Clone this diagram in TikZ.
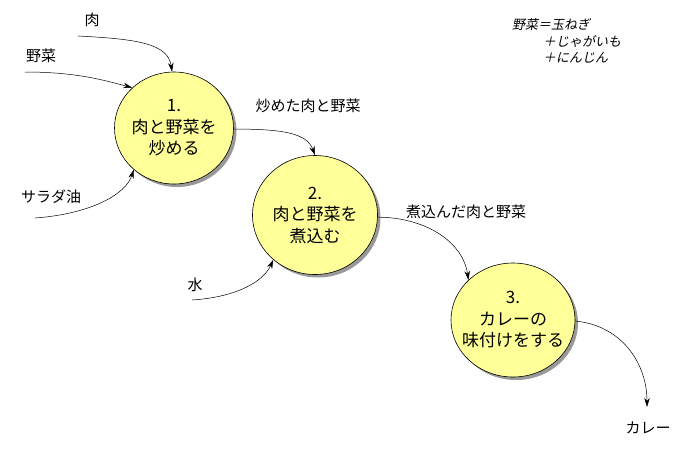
\documentclass[tikz,border=0pt]{standalone}
\usepackage{fontspec}
\setmainfont{Noto Sans CJK JP}
\newfontfamily\noteslant[FakeSlant=0.2]{Noto Sans CJK JP}
\usetikzlibrary{shapes.geometric,shadows,arrows.meta}
\definecolor{procfill}{HTML}{FFFF99}
\begin{document}
\begin{tikzpicture}[
    x=1pt, y=-1pt,
    proc/.style={ellipse, draw, fill=procfill, line width=0.6pt,
      drop shadow={shadow xshift=3pt, shadow yshift=-3pt, fill=black!40, opacity=1}},
    proctext/.style={align=center, inner sep=0pt, font=\fontsize{17}{21.5}\selectfont},
    lbl/.style={inner sep=0pt, font=\fontsize{15}{17}\selectfont},
    note/.style={anchor=west, inner sep=0pt, font=\noteslant\fontsize{13}{15}\selectfont},
    flow/.style={->, >={Stealth[length=9pt, width=5.5pt]}, line width=0.5pt}
  ]
    \useasboundingbox (0,0) rectangle (685,451);
    \node[proc, minimum width=119pt, minimum height=112pt] (fry) at (174,128) {};
    \node[proc, minimum width=125pt, minimum height=119pt] (boil) at (315,215) {};
    \node[proc, minimum width=124pt, minimum height=114pt] (taste) at (513,320) {};
    \node[proctext] (frytext) at (fry) {1.\\肉と野菜を\\炒める};
    \node[proctext] (boiltext) at (boil) {2.\\肉と野菜を\\煮込む};
    \node[proctext] (tastetext) at (taste) {3.\\カレーの\\味付けをする};
    \node[lbl] (meat) at (92,20) {肉};
    \node[lbl] (veg) at (41,56) {野菜};
    \node[lbl] (oil) at (51,197) {サラダ油};
    \node[lbl] (water) at (195,285) {水};
    \node[lbl] (fried) at (308,106) {炒めた肉と野菜};
    \node[lbl] (boiled) at (466,212) {煮込んだ肉と野菜};
    \node[lbl] (curry) at (648,428) {カレー};
    \node[note] (note1) at (512,25) {野菜＝玉ねぎ};
    \node[note] (note2) at (543,42) {＋じゃがいも};
    \node[note] (note3) at (543,58) {＋にんじん};
    \coordinate (meatin) at (78,36);
    \coordinate (vegin) at (25,72);
    \coordinate (oilin) at (35,218);
    \coordinate (waterin) at (192,300);
    \coordinate (curryout) at (647,407);
    \draw[flow] (meatin) .. controls +(60,3) and +(-4,-28) .. (fry.92);
    \draw[flow] (vegin) .. controls +(50,0) and +(-30,-8) .. (fry.136);
    \draw[flow] (oilin) .. controls +(55,-4) and +(-8,25) .. (fry.226);
    \draw[flow] (fry.359) .. controls +(50,0) and +(-8,-22) .. (boil.90);
    \draw[flow] (waterin) .. controls +(45,-3) and +(-10,22) .. (boil.227);
    \draw[flow] (boil.358) .. controls +(45,0) and +(-6,-40) .. (taste.138);
    \draw[flow] (taste.359) .. controls +(45,4) and +(0,-45) .. (curryout);
  \end{tikzpicture}
\end{document}
